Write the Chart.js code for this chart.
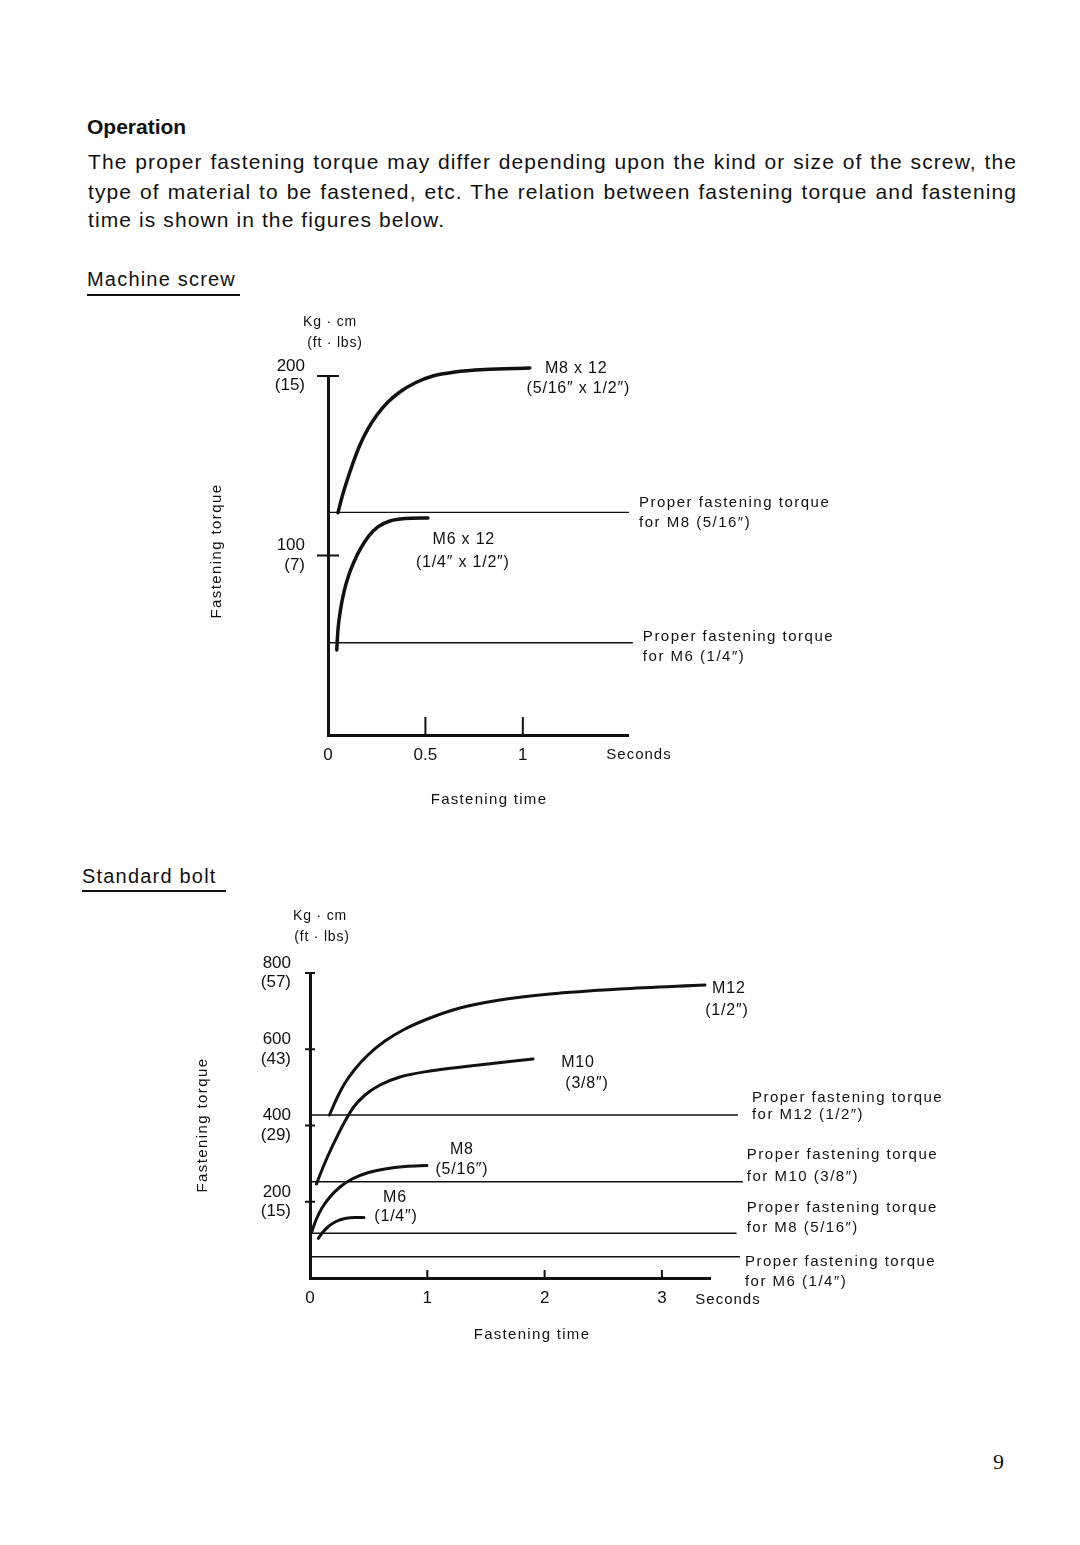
<!DOCTYPE html>
<html>
<head>
<meta charset="utf-8">
<script src="https://cdn.jsdelivr.net/npm/chart.js@4.4.1/dist/chart.umd.min.js"></script>
<style>
  html, body { margin: 0; padding: 0; background: #fff; }
  body { width: 1080px; height: 1545px; position: relative; overflow: hidden;
         font-family: "Liberation Sans", Arial, sans-serif; color: #111; }
  .t { position: absolute; white-space: nowrap; line-height: 24px; font-size: 20px; }
  .para { left: 88px; width: 929px; font-size: 21px; letter-spacing: 1.1px; }
  .just { text-align: justify; text-align-last: justify; }
  .rule { position: absolute; height: 1.5px; background: #111; }
  canvas { position: absolute; }
</style>
</head>
<body>

<div class="t" style="left:87px; top:115px; font-weight:bold; font-size:21px;">Operation</div>
<div class="t para just" style="top:150px;">The proper fastening torque may differ depending upon the kind or size of the screw, the</div>
<div class="t para just" style="top:180px;">type of material to be fastened, etc. The relation between fastening torque and fastening</div>
<div class="t para" style="top:208px;">time is shown in the figures below.</div>

<div class="t" style="left:87px; top:267px; letter-spacing:1.2px;">Machine screw</div>
<div class="rule" style="left:87px; top:294px; width:153px;"></div>

<div class="t" style="left:82px; top:864px; letter-spacing:1.2px;">Standard bolt</div>
<div class="rule" style="left:82px; top:890px; width:144px;"></div>

<div class="t" style="left:993px; top:1450px; font-family:'Liberation Serif', serif; font-size:22px;">9</div>

<canvas id="screwChart" width="720" height="520" style="left:170px; top:300px; width:720px; height:520px;"></canvas>
<canvas id="boltChart" width="800" height="470" style="left:170px; top:890px; width:800px; height:470px;"></canvas>

<script>
// torque (kg·cm) against fastening time (s)

const INK = '#111';
const DQ = '\u2033';

// ---- Machine screw ----
const SCREW_Y_TICKS = [100, 200];
const SCREW_Y_FTLB = ['7', '15'];
const SCREW_X_TICKS = [0, 0.5, 1];

const M8X12_T = [0.051, 0.072, 0.097, 0.128, 0.164, 0.205, 0.251, 0.308, 0.369, 0.446, 0.538, 0.651, 0.805, 1.036];
const M8X12_V = [123.8, 132.6, 141.5, 151.5, 161.6, 170.5, 178.3, 185.5, 191.1, 196.1, 200.0, 202.2, 203.6, 204.5];
const M6X12_T = [0.045, 0.051, 0.064, 0.082, 0.105, 0.133, 0.169, 0.210, 0.256, 0.318, 0.395, 0.513];
const M6X12_V = [47.4, 58.5, 69.6, 79.7, 88.6, 96.4, 104.2, 110.9, 115.9, 119.2, 120.6, 120.9];

const SCREW_REF_V = [124, 51.4];
const SCREW_REF_END = [1.545, 1.565];
const SCREW_REF_TEXT = [
    ['Proper fastening torque', 'for M8 (5/16' + DQ + ')'],
    ['Proper fastening torque', 'for M6 (1/4' + DQ + ')']
];

const SCREW_NOTES = [
    { text: 'M8 x 12', x: 1.274, y: 204.3 },
    { text: '(5/16' + DQ + ' x 1/2' + DQ + ')', x: 1.285, y: 193.1 },
    { text: 'M6 x 12', x: 0.697, y: 108.6 },
    { text: '(1/4' + DQ + ' x 1/2' + DQ + ')', x: 0.692, y: 95.8 }
];

// ---- Standard bolt ----
const BOLT_Y_TICKS = [200, 400, 600, 800];
const BOLT_Y_FTLB = ['15', '29', '43', '57'];
const BOLT_X_TICKS = [0, 1, 2, 3];

const M12_T = [0.166, 0.230, 0.298, 0.384, 0.494, 0.639, 0.810, 1.023, 1.278, 1.619, 2.045, 2.642, 3.367];
const M12_V = [427.5, 472.1, 511.5, 548.2, 584.9, 621.6, 653.1, 682.0, 708.2, 729.2, 744.9, 758.0, 768.5];
const M10_T = [0.055, 0.119, 0.196, 0.281, 0.366, 0.469, 0.597, 0.767, 1.023, 1.364, 1.901];
const M10_V = [246.6, 296.4, 348.9, 401.3, 445.9, 480.0, 506.2, 527.2, 543.0, 556.1, 574.4];
const M8_T = [0.015, 0.051, 0.102, 0.170, 0.256, 0.358, 0.486, 0.639, 0.810, 0.997];
const M8_V = [121.4, 152.1, 183.6, 212.5, 238.7, 259.7, 275.4, 285.9, 292.5, 295.1];
const M6_T = [0.071, 0.111, 0.162, 0.222, 0.298, 0.384, 0.460];
const M6_V = [104.1, 120.7, 136.4, 148.2, 156.1, 158.7, 158.7];

const BOLT_REF_V = [427.5, 252.6, 117.2, 55.9];
const BOLT_REF_END = [3.648, 3.690, 3.637, 3.665];
const BOLT_REF_TEXT = [
    ['Proper fastening torque', 'for M12 (1/2' + DQ + ')'],
    ['Proper fastening torque', 'for M10 (3/8' + DQ + ')'],
    ['Proper fastening torque', 'for M8 (5/16' + DQ + ')'],
    ['Proper fastening torque', 'for M6 (1/4' + DQ + ')']
];

const BOLT_NOTES = [
    { text: 'M12', x: 3.571, y: 758 },
    { text: '(1/2' + DQ + ')', x: 3.554, y: 700.3 },
    { text: 'M10', x: 2.284, y: 564 },
    { text: '(3/8' + DQ + ')', x: 2.361, y: 508.9 },
    { text: 'M8', x: 1.295, y: 335.7 },
    { text: '(5/16' + DQ + ')', x: 1.295, y: 283.3 },
    { text: 'M6', x: 0.724, y: 209.8 },
    { text: '(1/4' + DQ + ')', x: 0.733, y: 160 }
];

function curve(t, v, width) {
    return {
        data: t.map((x, i) => ({ x: x, y: v[i] })),
        borderColor: INK,
        borderWidth: width,
        pointRadius: 0,
        tension: 0.4,
        cubicInterpolationMode: 'monotone',
        borderCapStyle: 'round',
        borderJoinStyle: 'round',
        fill: false,
        clip: false
    };
}

function refLine(v, end) {
    return {
        data: [{ x: 0, y: v }, { x: end, y: v }],
        borderColor: INK,
        borderWidth: 1.4,
        pointRadius: 0,
        tension: 0,
        fill: false,
        clip: false
    };
}

function drawText(ctx, str, x, y, align, size, spacing) {
    ctx.font = size + 'px "Liberation Sans", Arial, sans-serif';
    if ('letterSpacing' in ctx) ctx.letterSpacing = (spacing || 0) + 'px';
    ctx.textAlign = align;
    ctx.textBaseline = 'middle';
    ctx.fillText(str, x, y);
}

// tick marks, units, titles and notes
const decoPlugin = {
    id: 'deco',
    afterDraw(chart, args, o) {
        const ctx = chart.ctx;
        const a = chart.chartArea;
        const xs = chart.scales.x, ys = chart.scales.y;
        ctx.save();
        ctx.strokeStyle = INK;
        ctx.fillStyle = INK;
        ctx.lineWidth = 2;

        ys.ticks.forEach(t => {
            const py = ys.getPixelForValue(t.value);
            ctx.beginPath();
            ctx.moveTo(a.left - o.yTick, py);
            ctx.lineTo(a.left + o.yTick, py);
            ctx.stroke();
        });
        xs.ticks.forEach(t => {
            if (t.value <= xs.min) return;
            const px = xs.getPixelForValue(t.value);
            ctx.beginPath();
            ctx.moveTo(px, a.bottom);
            ctx.lineTo(px, a.bottom - o.xTick);
            ctx.stroke();
        });

        drawText(ctx, 'Kg \u00b7 cm', a.left + o.unitDx[0], a.top + o.unitDy[0], 'center', 14, 0.8);
        drawText(ctx, '(ft \u00b7 lbs)', a.left + o.unitDx[1], a.top + o.unitDy[1], 'center', 14, 0.8);

        drawText(ctx, 'Seconds', a.right + o.secDx, a.bottom + o.secDy, 'center', 15, 1);
        drawText(ctx, 'Fastening time', (a.left + a.right) / 2 + o.titleDx, a.bottom + o.titleDy, 'center', 15, 1.3);

        ctx.save();
        ctx.translate(a.left + o.yTitleDx, o.yTitleY - chart.canvas.offsetTop);
        ctx.rotate(-Math.PI / 2);
        drawText(ctx, 'Fastening torque', 0, 0, 'center', 15, 1.4);
        ctx.restore();

        o.notes.forEach(n => {
            drawText(ctx, n.text, xs.getPixelForValue(n.x), ys.getPixelForValue(n.y), 'center', 16, 0.8);
        });

        o.refs.forEach(r => {
            const px = xs.getPixelForValue(r.end) + r.gap;
            const py = ys.getPixelForValue(r.v);
            drawText(ctx, r.text[0], px, py + r.dy[0], 'left', 15, 1.5);
            drawText(ctx, r.text[1], px, py + r.dy[1], 'left', 15, 1.5);
        });
        ctx.restore();
    }
};

function axes(xMax, yMax, xTicks, yTicks, ftlb, axisW, yPad) {
    return {
        x: {
            type: 'linear', min: 0, max: xMax,
            afterFit: s => { s.height = 40; },
            afterBuildTicks: s => { s.ticks = xTicks.map(v => ({ value: v })); },
            grid: { display: false, drawTicks: false },
            border: { display: true, width: 3, color: INK },
            ticks: {
                autoSkip: false, maxRotation: 0, minRotation: 0, padding: 10, color: INK,
                font: { family: '"Liberation Sans", Arial, sans-serif', size: 17 },
                callback: v => String(v)
            }
        },
        y: {
            type: 'linear', min: 0, max: yMax,
            afterFit: s => { s.width = axisW; },
            afterBuildTicks: s => { s.ticks = yTicks.map(v => ({ value: v })); },
            grid: { display: false, drawTicks: false },
            border: { display: true, width: 3, color: INK },
            ticks: {
                autoSkip: false, padding: yPad, color: INK,
                font: { family: '"Liberation Sans", Arial, sans-serif', size: 17, lineHeight: 1.15 },
                callback: v => [String(v), '(' + ftlb[yTicks.indexOf(v)] + ')']
            }
        }
    };
}

new Chart(document.getElementById('screwChart'), {
    type: 'line',
    data: {
        datasets: [
            curve(M8X12_T, M8X12_V, 3.5),
            curve(M6X12_T, M6X12_V, 3.5),
            refLine(SCREW_REF_V[0], SCREW_REF_END[0]),
            refLine(SCREW_REF_V[1], SCREW_REF_END[1])
        ]
    },
    options: {
        responsive: false,
        animation: false,
        layout: { padding: { left: 0, top: 76, right: 262, bottom: 45 } },
        plugins: {
            legend: { display: false },
            tooltip: { enabled: false },
            deco: {
                yTick: 11, xTick: 18,
                unitDx: [2, 7], unitDy: [-54, -33],
                secDx: 11, secDy: 20,
                titleDx: 11, titleDy: 65,
                yTitleDx: -111, yTitleY: 551,
                notes: SCREW_NOTES,
                refs: SCREW_REF_V.map((v, i) => ({
                    v: v, end: SCREW_REF_END[i], text: SCREW_REF_TEXT[i],
                    gap: 10, dy: i === 0 ? [-10, 10] : [-6, 14]
                }))
            }
        },
        scales: axes(1.54, 200, SCREW_X_TICKS, SCREW_Y_TICKS, SCREW_Y_FTLB, 158, 23)
    },
    plugins: [decoPlugin]
});

new Chart(document.getElementById('boltChart'), {
    type: 'line',
    data: {
        datasets: [
            curve(M12_T, M12_V, 3),
            curve(M10_T, M10_V, 3),
            curve(M8_T, M8_V, 3),
            curve(M6_T, M6_V, 3),
            refLine(BOLT_REF_V[0], BOLT_REF_END[0]),
            refLine(BOLT_REF_V[1], BOLT_REF_END[1]),
            refLine(BOLT_REF_V[2], BOLT_REF_END[2]),
            refLine(BOLT_REF_V[3], BOLT_REF_END[3])
        ]
    },
    options: {
        responsive: false,
        animation: false,
        layout: { padding: { left: 0, top: 83, right: 260, bottom: 42 } },
        plugins: {
            legend: { display: false },
            tooltip: { enabled: false },
            deco: {
                yTick: 5, xTick: 8,
                unitDx: [10, 12], unitDy: [-57, -36],
                secDx: 18, secDy: 22,
                titleDx: 22, titleDy: 57,
                yTitleDx: -107, yTitleY: 1125,
                notes: BOLT_NOTES,
                refs: BOLT_REF_V.map((v, i) => ({
                    v: v, end: BOLT_REF_END[i], text: BOLT_REF_TEXT[i],
                    gap: [14, 4, 10, 5][i],
                    dy: [[-17, 0], [-27, -5], [-25, -5], [5, 25]][i]
                }))
            }
        },
        scales: axes(3.41, 800, BOLT_X_TICKS, BOLT_Y_TICKS, BOLT_Y_FTLB, 140, 19)
    },
    plugins: [decoPlugin]
});
</script>
</body>
</html>
